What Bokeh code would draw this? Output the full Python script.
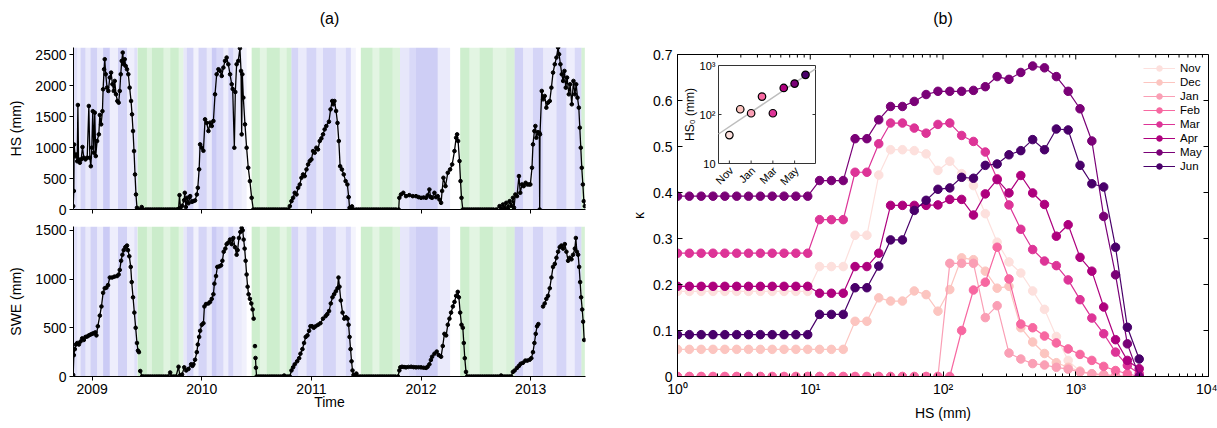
import math
from bokeh.plotting import figure
from bokeh.layouts import row, column
from bokeh.models import (Range1d, FixedTicker, CustomJSTickFormatter, Legend, LegendItem,
                          LinearScale, LogScale)
from bokeh.embed import file_html
from bokeh.resources import INLINE
from bokeh.core.properties import value

FONT = "Liberation Sans"
nan = float("nan")

# ---------------- panel (a): snow series (decimal year, mm) ----------------
HS_S1 = [(2008.827, 54), (2008.833, 300), (2008.836, 1050), (2008.845, 860), (2008.855, 890),
         (2008.864, 780), (2008.870, 1690), (2008.876, 810), (2008.888, 756), (2008.900, 810),
         (2008.912, 1010), (2008.924, 837), (2008.939, 810), (2008.955, 837), (2008.970, 1674),
         (2008.979, 837), (2008.988, 700), (2008.997, 1000), (2009.006, 1590), (2009.015, 918),
         (2009.024, 1566), (2009.033, 864), (2009.045, 1107), (2009.061, 1215), (2009.070, 1528),
         (2009.082, 1377), (2009.094, 1590), (2009.100, 1944), (2009.109, 2268), (2009.115, 2430),
         (2009.124, 2187), (2009.136, 1971), (2009.148, 1917), (2009.161, 2133), (2009.173, 2214),
         (2009.185, 2025), (2009.197, 1917), (2009.206, 2079), (2009.218, 1863), (2009.230, 1755),
         (2009.242, 1728), (2009.252, 1917), (2009.261, 2187), (2009.270, 2403), (2009.279, 2538),
         (2009.288, 2349), (2009.297, 2430), (2009.306, 2322), (2009.318, 2268), (2009.330, 2187),
         (2009.342, 1971), (2009.355, 1755), (2009.364, 1539), (2009.373, 1269), (2009.382, 945),
         (2009.391, 567), (2009.400, 243), (2009.409, 27), (2009.418, 0), (2009.440, 0),
         (2009.452, 40), (2009.465, 0), (2009.490, 0), (2009.510, 0), (2009.530, 0), (2009.550, 0),
         (2009.570, 0), (2009.590, 0), (2009.610, 0), (2009.630, 0), (2009.650, 0), (2009.670, 0),
         (2009.690, 0), (2009.710, 0), (2009.730, 0), (2009.750, 0), (2009.770, 0)]
HS_S2 = [(2009.788, 10), (2009.797, 232), (2009.806, 30), (2009.821, 60), (2009.839, 150),
         (2009.845, 270), (2009.855, 40), (2009.867, 190), (2009.879, 100), (2009.894, 216),
         (2009.909, 124), (2009.924, 135), (2009.939, 146), (2009.955, 243), (2009.964, 351),
         (2009.976, 650), (2009.985, 1053), (2010.000, 999), (2010.015, 950), (2010.030, 1458),
         (2010.045, 1400), (2010.061, 1269), (2010.076, 1404), (2010.091, 1350), (2010.106, 1431),
         (2010.121, 1863), (2010.136, 2187), (2010.152, 2268), (2010.167, 2241), (2010.182, 2160),
         (2010.197, 2295), (2010.212, 2403), (2010.227, 2457), (2010.242, 2349), (2010.258, 2187),
         (2010.273, 2025), (2010.282, 1950), (2010.297, 999), (2010.306, 1900), (2010.318, 2349),
         (2010.333, 2403), (2010.348, 2608), (2010.358, 2241), (2010.364, 1215), (2010.370, 2187),
         (2010.379, 1809), (2010.394, 1377), (2010.409, 999), (2010.424, 675), (2010.439, 459),
         (2010.455, 189), (2010.470, 0), (2010.490, 0), (2010.510, 0), (2010.530, 0), (2010.550, 0),
         (2010.570, 0), (2010.590, 0), (2010.610, 0), (2010.630, 0), (2010.650, 0), (2010.670, 0),
         (2010.690, 0), (2010.710, 0), (2010.730, 0), (2010.750, 0), (2010.770, 0), (2010.790, 0)]
HS_S3 = [(2010.803, 54), (2010.818, 135), (2010.833, 189), (2010.848, 270), (2010.864, 243),
         (2010.879, 351), (2010.894, 405), (2010.909, 513), (2010.924, 567), (2010.939, 540),
         (2010.955, 648), (2010.970, 729), (2010.985, 783), (2011.000, 810), (2011.015, 945),
         (2011.030, 918), (2011.045, 999), (2011.060, 972), (2011.076, 1107), (2011.091, 1150),
         (2011.106, 1215), (2011.121, 1296), (2011.136, 1350), (2011.160, 1420), (2011.175, 1620),
         (2011.190, 1755), (2011.200, 1701), (2011.210, 1755), (2011.225, 1593), (2011.238, 1400),
         (2011.250, 1107), (2011.262, 700), (2011.278, 648), (2011.295, 567), (2011.312, 459),
         (2011.328, 405), (2011.340, 200), (2011.348, 27), (2011.355, 0), (2011.370, 50),
         (2011.385, 0), (2011.410, 0), (2011.430, 0), (2011.450, 0), (2011.470, 0), (2011.490, 0),
         (2011.510, 0), (2011.530, 0), (2011.550, 0), (2011.570, 0), (2011.590, 0), (2011.610, 0),
         (2011.630, 0), (2011.650, 0), (2011.670, 0), (2011.690, 0), (2011.710, 0), (2011.730, 0),
         (2011.750, 0), (2011.770, 0), (2011.796, 0)]
HS_S4 = [(2011.802, 189), (2011.817, 243), (2011.838, 270), (2011.863, 216), (2011.893, 232),
         (2011.924, 216), (2011.954, 216), (2011.977, 200), (2012.000, 189), (2012.023, 195),
         (2012.046, 189), (2012.061, 230), (2012.076, 324), (2012.088, 200), (2012.101, 189),
         (2012.122, 270), (2012.137, 200), (2012.152, 216), (2012.168, 160), (2012.183, 108),
         (2012.192, 300), (2012.204, 513), (2012.223, 378), (2012.244, 594), (2012.265, 648),
         (2012.284, 729), (2012.305, 945), (2012.320, 1161), (2012.329, 1215), (2012.338, 1107),
         (2012.351, 783), (2012.360, 459), (2012.369, 189), (2012.381, 0), (2012.400, 0),
         (2012.420, 0), (2012.440, 0), (2012.460, 0), (2012.480, 0), (2012.500, 0), (2012.520, 0),
         (2012.540, 0), (2012.560, 0), (2012.580, 0), (2012.600, 0), (2012.620, 0), (2012.640, 0),
         (2012.660, 0), (2012.686, 0)]
HS_S5 = [(2012.716, 54), (2012.732, 10), (2012.747, 81), (2012.762, 20), (2012.777, 108),
         (2012.793, 30), (2012.808, 135), (2012.823, 60), (2012.838, 189), (2012.848, 30),
         (2012.860, 243), (2012.875, 216), (2012.893, 540), (2012.905, 270), (2012.921, 405),
         (2012.936, 378), (2012.954, 432), (2012.970, 405), (2012.985, 405), (2012.997, 405),
         (2013.012, 675), (2013.021, 1053), (2013.034, 1269), (2013.043, 1350), (2013.052, 1161),
         (2013.067, 1250), (2013.079, 1240), (2013.082, 0), (2013.085, 1215), (2013.101, 1917),
         (2013.113, 1782), (2013.128, 1836), (2013.143, 1647), (2013.158, 1728), (2013.174, 1755),
         (2013.189, 1971), (2013.204, 2214), (2013.220, 2349), (2013.235, 2457), (2013.250, 2619),
         (2013.259, 2511), (2013.271, 2349), (2013.284, 2187), (2013.296, 2079), (2013.308, 2241),
         (2013.320, 1971), (2013.332, 2133), (2013.348, 1863), (2013.360, 2025), (2013.375, 1701),
         (2013.390, 2079), (2013.403, 1863), (2013.415, 2025), (2013.427, 1809), (2013.439, 1647),
         (2013.448, 1323), (2013.457, 999), (2013.466, 675), (2013.476, 405), (2013.485, 135),
         (2013.494, 54)]

SWE_S1 = [(2008.827, 16), (2008.833, 219), (2008.842, 281), (2008.852, 328), (2008.864, 344),
          (2008.879, 328), (2008.894, 359), (2008.909, 391), (2008.924, 375), (2008.939, 406),
          (2008.955, 410), (2008.970, 422), (2008.985, 430), (2009.000, 438), (2009.015, 445),
          (2009.030, 453), (2009.039, 422), (2009.052, 516), (2009.070, 625), (2009.085, 719),
          (2009.100, 859), (2009.115, 906), (2009.130, 912), (2009.145, 938), (2009.161, 1016),
          (2009.182, 1016), (2009.203, 1025), (2009.227, 1031), (2009.242, 1047), (2009.252, 1094),
          (2009.264, 1188), (2009.276, 1250), (2009.288, 1297), (2009.303, 1328), (2009.318, 1344),
          (2009.327, 1297), (2009.339, 1234), (2009.352, 1125), (2009.361, 969), (2009.373, 813),
          (2009.385, 656), (2009.397, 500), (2009.409, 344), (2009.418, 266), (2009.427, 250),
          (2009.433, nan), (2009.439, 56), (2009.455, 0), (2009.470, 0), (2009.490, 0),
          (2009.510, 0), (2009.530, 0), (2009.550, 0), (2009.570, 0), (2009.590, 0), (2009.610, 0),
          (2009.630, 0), (2009.650, 0), (2009.670, 0), (2009.690, 0), (2009.712, 41),
          (2009.725, 0), (2009.745, 0), (2009.765, 0)]
SWE_S2 = [(2009.788, 100), (2009.800, 10), (2009.820, 20), (2009.840, 94), (2009.858, 62),
          (2009.879, 78), (2009.903, 125), (2009.915, 109), (2009.924, 125), (2009.939, 172),
          (2009.955, 250), (2009.964, 328), (2009.976, 406), (2009.985, 469), (2010.000, 531),
          (2010.015, 547), (2010.024, 719), (2010.039, 744), (2010.061, 750), (2010.076, 766),
          (2010.091, 797), (2010.106, 844), (2010.115, 953), (2010.130, 1031), (2010.142, 1125),
          (2010.161, 1131), (2010.176, 1141), (2010.188, 1188), (2010.200, 1281), (2010.215, 1313),
          (2010.227, 1359), (2010.242, 1375), (2010.258, 1406), (2010.273, 1359), (2010.288, 1422),
          (2010.303, 1328), (2010.318, 1250), (2010.327, 1297), (2010.339, 1422), (2010.352, 1484),
          (2010.364, 1525), (2010.373, 1500), (2010.382, 1406), (2010.391, 1313), (2010.400, 1188),
          (2010.409, 1047), (2010.418, 922), (2010.427, 844), (2010.439, 797), (2010.452, 750),
          (2010.464, 688), (2010.473, 594), (2010.479, nan), (2010.485, 312), (2010.487, nan),
          (2010.490, 190), (2010.494, 90), (2010.500, 0), (2010.520, 0), (2010.540, 0),
          (2010.560, 0), (2010.580, 0), (2010.600, 0), (2010.620, 0), (2010.640, 0), (2010.660, 0),
          (2010.680, 0), (2010.700, 0), (2010.720, 0), (2010.740, 0), (2010.752, 10),
          (2010.765, 0), (2010.785, 0), (2010.803, 0)]
SWE_S3 = [(2010.818, 62), (2010.833, 94), (2010.848, 125), (2010.870, 156), (2010.888, 188),
          (2010.900, 234), (2010.918, 281), (2010.933, 344), (2010.948, 406), (2010.964, 422),
          (2010.979, 469), (2010.991, 516), (2011.006, 516), (2011.021, 500), (2011.039, 516),
          (2011.061, 531), (2011.082, 547), (2011.106, 594), (2011.130, 620), (2011.145, 640),
          (2011.161, 672), (2011.177, 750), (2011.192, 813), (2011.207, 844), (2011.223, 875),
          (2011.238, 906), (2011.247, 1016), (2011.256, 922), (2011.268, 781), (2011.284, 656),
          (2011.300, 594), (2011.314, 609), (2011.330, 594), (2011.339, 531), (2011.348, 406),
          (2011.357, 281), (2011.366, 156), (2011.375, 62), (2011.384, 16), (2011.395, 0),
          (2011.410, 30), (2011.425, 0), (2011.445, 0), (2011.465, 0), (2011.485, 0), (2011.505, 0),
          (2011.525, 0), (2011.545, 0), (2011.565, 0), (2011.585, 0), (2011.605, 0), (2011.625, 0),
          (2011.645, 0), (2011.665, 0), (2011.685, 0), (2011.705, 0), (2011.725, 0), (2011.745, 0),
          (2011.765, 0), (2011.790, 0)]
SWE_S4 = [(2011.802, 62), (2011.811, 94), (2011.826, 100), (2011.845, 97), (2011.863, 94),
          (2011.885, 98), (2011.910, 100), (2011.932, 96), (2011.954, 94), (2011.977, 95),
          (2012.000, 94), (2012.023, 90), (2012.046, 88), (2012.060, 100), (2012.076, 125),
          (2012.090, 170), (2012.101, 203), (2012.122, 234), (2012.143, 256), (2012.162, 219),
          (2012.183, 203), (2012.198, 313), (2012.213, 438), (2012.229, 422), (2012.244, 531),
          (2012.259, 594), (2012.274, 656), (2012.290, 719), (2012.305, 766), (2012.320, 828),
          (2012.335, 869), (2012.345, 813), (2012.357, 656), (2012.369, 531), (2012.381, 500),
          (2012.390, 344), (2012.399, 188), (2012.410, 47), (2012.420, 0), (2012.440, 0),
          (2012.460, 0), (2012.480, 0), (2012.500, 0), (2012.520, 0), (2012.540, 0), (2012.560, 0),
          (2012.580, 0), (2012.600, 0), (2012.620, 0), (2012.640, 0), (2012.660, 0), (2012.680, 0),
          (2012.700, 0), (2012.730, 10), (2012.745, 0), (2012.765, 0), (2012.785, 0),
          (2012.805, 0), (2012.822, 0)]
SWE_S5 = [(2012.838, 47), (2012.854, 62), (2012.875, 88), (2012.893, 109), (2012.909, 131),
          (2012.930, 141), (2012.951, 163), (2012.970, 163), (2012.991, 172), (2013.006, 188),
          (2013.021, 250), (2013.034, 344), (2013.046, 438), (2013.058, 516), (2013.070, 538),
          (2013.090, nan), (2013.113, 719), (2013.128, 750), (2013.143, 797), (2013.158, 828),
          (2013.174, 906), (2013.189, 1016), (2013.204, 1125), (2013.220, 1156), (2013.235, 1219),
          (2013.250, 1281), (2013.265, 1328), (2013.280, 1344), (2013.296, 1313), (2013.311, 1359),
          (2013.326, 1281), (2013.341, 1188), (2013.357, 1219), (2013.372, 1203), (2013.387, 1250),
          (2013.403, 1313), (2013.412, 1422), (2013.421, 1281), (2013.433, 1250), (2013.442, 1125),
          (2013.451, 969), (2013.460, 813), (2013.470, 688), (2013.479, 563), (2013.488, 375)]

# background day classes: (start, end, class, intensity); b = accumulation, g = snow-free
BANDS = [(2008.827, 2008.864, "b", 0.45), (2008.864, 2008.894, "b", 0.25), (2008.894, 2008.939, "b", 0.60),
         (2008.939, 2008.985, "b", 0.30), (2008.985, 2009.045, "b", 0.65), (2009.045, 2009.100, "b", 0.30),
         (2009.100, 2009.161, "b", 0.75), (2009.161, 2009.236, "b", 0.25), (2009.236, 2009.318, "b", 0.65),
         (2009.318, 2009.385, "b", 0.25), (2009.385, 2009.412, "b", 0.45),
         (2009.415, 2009.500, "g", 0.75), (2009.500, 2009.545, "g", 0.45), (2009.545, 2009.652, "g", 0.75),
         (2009.652, 2009.712, "g", 0.45), (2009.712, 2009.790, "g", 0.70), (2009.790, 2009.833, "g", 0.40),
         (2009.833, 2009.864, "b", 0.35), (2009.864, 2009.924, "b", 0.60), (2009.924, 2009.970, "b", 0.20),
         (2009.970, 2010.045, "b", 0.60), (2010.045, 2010.091, "b", 0.30), (2010.091, 2010.136, "b", 0.75),
         (2010.136, 2010.197, "b", 0.55), (2010.197, 2010.242, "b", 0.25), (2010.242, 2010.288, "b", 0.60),
         (2010.288, 2010.364, "b", 0.30), (2010.364, 2010.409, "b", 0.20),
         (2010.455, 2010.530, "g", 0.70), (2010.530, 2010.591, "g", 0.40), (2010.591, 2010.712, "g", 0.70),
         (2010.712, 2010.773, "g", 0.40), (2010.773, 2010.818, "g", 0.65),
         (2010.818, 2010.879, "b", 0.60), (2010.879, 2010.955, "b", 0.30), (2010.955, 2011.045, "b", 0.60),
         (2011.045, 2011.106, "b", 0.30), (2011.106, 2011.223, "b", 0.60), (2011.223, 2011.314, "b", 0.30),
         (2011.314, 2011.360, "b", 0.55), (2011.360, 2011.405, "b", 0.15),
         (2011.451, 2011.558, "g", 0.70), (2011.558, 2011.619, "g", 0.40), (2011.619, 2011.741, "g", 0.70),
         (2011.741, 2011.808, "g", 0.50),
         (2011.808, 2011.893, "b", 0.35), (2011.893, 2011.954, "b", 0.55), (2011.954, 2012.152, "b", 0.70),
         (2012.152, 2012.265, "b", 0.30),
         (2012.357, 2012.442, "g", 0.70), (2012.442, 2012.534, "g", 0.40), (2012.534, 2012.655, "g", 0.70),
         (2012.655, 2012.777, "g", 0.40), (2012.777, 2012.854, "g", 0.55),
         (2012.854, 2012.930, "b", 0.65), (2012.930, 2013.021, "b", 0.30), (2013.021, 2013.113, "b", 0.60),
         (2013.113, 2013.235, "b", 0.30), (2013.235, 2013.326, "b", 0.60), (2013.326, 2013.402, "b", 0.25),
         (2013.402, 2013.463, "b", 0.55), (2013.463, 2013.494, "g", 0.60)]

YEAR_TICKS = [2009, 2010, 2011, 2012, 2013]
HS_TICKS = [0, 500, 1000, 1500, 2000, 2500]
SWE_TICKS = [0, 500, 1000, 1500]

# ---------------- panel (b): kappa vs HS by month ----------------
MONTHS = ["Nov", "Dec", "Jan", "Feb", "Mar", "Apr", "May", "Jun"]
MONTH_COLORS = ["#fde0dd", "#fcc5c0", "#fa9fb5", "#f768a1", "#dd3497", "#ae017e", "#7a0177", "#49006a"]
HS_BINS = [1.0, 1.228, 1.508, 1.851, 2.274, 2.792, 3.429, 4.21, 5.169, 6.348, 7.795, 9.572,
           11.75, 14.43, 17.72, 21.76, 26.72, 32.81, 40.29, 49.48, 60.76, 74.61, 91.61,
           112.5, 138.2, 169.6, 208.3, 255.8, 314.1, 385.7, 473.6, 581.6, 714.2, 876.9,
           1077, 1322, 1624, 1994, 2448, 3006]
KAPPA_NOV = [0.185, 0.185, 0.185, 0.185, 0.185, 0.185, 0.185, 0.185, 0.185, 0.185, 0.185, 0.185,
             0.239, 0.239, 0.239, 0.307, 0.307, 0.438, 0.493, 0.493, 0.491, 0.484, 0.448, 0.468,
             0.441, 0.415, 0.354, 0.292, 0.249, 0.225, 0.186, 0.146, 0.087, 0.035, 0.011, 0.004,
             0.001, 0, 0, 0]
KAPPA_DEC = [0.059, 0.059, 0.059, 0.059, 0.059, 0.059, 0.059, 0.059, 0.059, 0.059, 0.059, 0.059,
             0.059, 0.059, 0.059, 0.120, 0.120, 0.171, 0.164, 0.164, 0.186, 0.178, 0.142, 0.189,
             0.258, 0.254, 0.229, 0.192, 0.196, 0.106, 0.075, 0.050, 0.030, 0.020, 0.012, 0.006,
             0.003, 0.001, 0, 0]
KAPPA_JAN = [0, 0, 0, 0, 0, 0, 0, 0, 0, 0, 0, 0, 0, 0, 0, 0, 0, 0, 0, 0, 0, 0, 0,
             0.246, 0.246, 0.246, 0.128, 0.154, 0.051, 0.038, 0.028, 0.025, 0.020, 0.016, 0.010,
             0.006, 0.004, 0.002, 0, 0]
KAPPA_FEB = [0, 0, 0, 0, 0, 0, 0, 0, 0, 0, 0, 0, 0, 0, 0, 0, 0, 0, 0, 0, 0, 0, 0, 0,
             0.100, 0.188, 0.205, 0.281, 0.212, 0.114, 0.106, 0.088, 0.073, 0.060, 0.048, 0.035,
             0.022, 0.013, 0.006, 0]
KAPPA_MAR = [0.268, 0.268, 0.268, 0.268, 0.268, 0.268, 0.268, 0.268, 0.268, 0.268, 0.268, 0.268,
             0.341, 0.341, 0.341, 0.444, 0.444, 0.506, 0.551, 0.551, 0.540, 0.529, 0.548, 0.551,
             0.524, 0.511, 0.488, 0.430, 0.373, 0.320, 0.276, 0.251, 0.241, 0.210, 0.167, 0.127,
             0.093, 0.053, 0.024, 0.006]
KAPPA_APR = [0.196, 0.196, 0.196, 0.196, 0.196, 0.196, 0.196, 0.196, 0.196, 0.196, 0.196, 0.196,
             0.181, 0.181, 0.181, 0.239, 0.239, 0.268, 0.372, 0.372, 0.372, 0.372, 0.373, 0.385,
             0.385, 0.351, 0.397, 0.428, 0.399, 0.437, 0.399, 0.374, 0.305, 0.330, 0.259, 0.229,
             0.151, 0.080, 0.035, 0.017]
KAPPA_MAY = [0.392, 0.392, 0.392, 0.392, 0.392, 0.392, 0.392, 0.392, 0.392, 0.392, 0.392, 0.392,
             0.426, 0.426, 0.426, 0.517, 0.517, 0.558, 0.587, 0.587, 0.598, 0.613, 0.620, 0.620,
             0.620, 0.622, 0.630, 0.652, 0.646, 0.661, 0.675, 0.671, 0.652, 0.620, 0.582, 0.512,
             0.348, 0.221, 0.071, 0.0]
KAPPA_JUN = [0.091, 0.091, 0.091, 0.091, 0.091, 0.091, 0.091, 0.091, 0.091, 0.091, 0.091, 0.091,
             0.135, 0.135, 0.135, 0.193, 0.193, 0.240, 0.297, 0.297, 0.361, 0.383, 0.407, 0.410,
             0.433, 0.431, 0.459, 0.462, 0.482, 0.491, 0.515, 0.493, 0.538, 0.536, 0.459, 0.419,
             0.412, 0.281, 0.107, 0.038]
KAPPA_ALL = [KAPPA_NOV, KAPPA_DEC, KAPPA_JAN, KAPPA_FEB, KAPPA_MAR, KAPPA_APR, KAPPA_MAY, KAPPA_JUN]
KAPPA_TICKS = [0, 0.1, 0.2, 0.3, 0.4, 0.5, 0.6, 0.7]
HS_DECADES = [1, 10, 100, 1000, 10000]

# inset: HS0 per month (mm) and its log-linear fit
MONTH_IDX = [0, 1, 2, 3, 4, 5, 6, 7]
HS0 = [38, 128, 106, 232, 106, 348, 427, 645]
HS0_FIT_X = [-1.0, 7.92]
HS0_FIT_Y = [40, 851]
INSET_XTICKS = [0, 2, 4, 6]
INSET_XLABELS = ["Nov", "Jan", "Mar", "May"]
INSET_YTICKS = [1000, 100, 10]
INSET_YLABELS = ["10\u00b3", "10\u00b2", "10"]

# ---------------- layout constants (page pixels, page has no margin) ----------------
TITLE_H = 36                      # strip holding the panel titles
A_X0, A_X1 = 2008.83, 2013.50
A_FW, A_ML, A_MR = 512, 73, 35
A_W = A_ML + A_FW + A_MR          # 620
B_FL, B_FT, B_FW, B_FH = 677, 54, 531, 322
B_ML = B_FL - A_W
B_MR = 1217 - B_FL - B_FW
INSET_L, INSET_R, INSET_T, INSET_B = 718, 815, 65, 163
INSET_X = (-1.0, 7.92)
INSET_Y = (10.0, 1000.0)

BLUE, GREEN = "#a8a8ee", "#a8e0a8"
BAND_ALPHA = 0.8


def title_strip(text, fw, ml, mr):
    # a frame exactly as wide as the panel frame below it (column layouts align frames)
    t = figure(x_range=Range1d(0, fw), y_range=Range1d(0, TITLE_H),
               frame_width=fw, frame_height=TITLE_H, min_border_left=ml, min_border_right=mr,
               min_border_top=0, min_border_bottom=0,
               x_axis_location=None, y_axis_location=None, title=None,
               output_backend="svg", toolbar_location=None)
    t.grid.visible = False
    t.outline_line_color = None
    t.text(x=[fw / 2], y=[TITLE_H / 2], text=[text], text_align="center",
           text_baseline="middle", text_font=value(FONT), text_font_size=value("16px"),
           text_color="black")
    return t


def style_axis(ax, size="14px"):
    ax.axis_line_color = "black"
    ax.axis_line_width = 1
    ax.major_tick_line_color = "black"
    ax.minor_tick_line_color = None
    ax.major_label_text_font = FONT
    ax.major_label_text_font_size = size
    ax.major_label_text_color = "black"
    ax.axis_label_text_font = FONT
    ax.axis_label_text_font_style = "normal"
    ax.axis_label_text_font_size = size
    ax.axis_label_text_color = "black"


def panel_a(series, ymax, yticks, ylabel, mb_top, fh, mb_bottom, show_x):
    p = figure(x_range=Range1d(A_X0, A_X1), y_range=Range1d(0, ymax),
               frame_width=A_FW, frame_height=fh,
               min_border_left=A_ML, min_border_right=A_MR,
               min_border_top=mb_top, min_border_bottom=mb_bottom,
               title=None, output_backend="svg", toolbar_location=None)
    p.grid.visible = False
    p.outline_line_color = None
    p.quad(left=[b[0] for b in BANDS], right=[b[1] for b in BANDS], bottom=0, top=ymax,
           fill_color=[BLUE if b[2] == "b" else GREEN for b in BANDS],
           fill_alpha=[b[3] * BAND_ALPHA for b in BANDS], line_color=None)
    xs, ys = [], []
    for s in series:
        xs += [t for t, _ in s]
        ys += [v for _, v in s]
    p.line(xs, ys, line_color="black", line_width=1.3)
    p.scatter(xs, ys, size=3.6, marker="circle", color="black")

    yax = p.yaxis[0]
    style_axis(yax)
    yax.ticker = FixedTicker(ticks=yticks)
    yax.axis_label = ylabel
    yax.major_tick_out = 4
    yax.major_tick_in = 0
    yax.major_label_standoff = 3
    yax.axis_label_standoff = 8

    xax = p.xaxis[0]
    style_axis(xax)
    xax.ticker = FixedTicker(ticks=YEAR_TICKS)
    xax.major_tick_out = 4
    xax.major_tick_in = 0
    if show_x:
        xax.major_label_standoff = 3
        xax.axis_label = "Time"
        xax.axis_label_standoff = -3
    else:
        xax.major_label_text_font_size = "1px"
        xax.major_label_text_color = None
        xax.major_label_text_alpha = 0
        xax.major_label_standoff = 0
    return p


t_a = title_strip("(a)", A_FW, A_ML, A_MR)
p_hs = panel_a([HS_S1, HS_S2, HS_S3, HS_S4, HS_S5], 2620, HS_TICKS, "HS (mm)",
               47 - TITLE_H, 162, 10, False)
p_swe = panel_a([SWE_S1, SWE_S2, SWE_S3, SWE_S4, SWE_S5], 1540, SWE_TICKS, "SWE (mm)",
                7, 150, 52, True)

# ---------------- panel (b) ----------------
t_b = title_strip("(b)", B_FW, B_ML, B_MR)
pb = figure(x_axis_type="log", x_range=Range1d(1, 1e4), y_range=Range1d(0, 0.7),
            frame_width=B_FW, frame_height=B_FH, min_border_left=B_ML,
            min_border_right=B_MR,
            min_border_top=B_FT - TITLE_H, min_border_bottom=428 - B_FT - B_FH, title=None,
            output_backend="svg", toolbar_location=None)
pb.grid.visible = False
pb.outline_line_color = "black"

items = []
for m, c, k in zip(MONTHS, MONTH_COLORS, KAPPA_ALL):
    r1 = pb.line(HS_BINS, k, line_color=c, line_width=1.2)
    r2 = pb.scatter(HS_BINS, k, size=8.5, marker="circle", fill_color=c, line_color=c)
    items.append(LegendItem(label=m, renderers=[r1, r2]))

minor = [m * 10 ** e for e in range(4) for m in range(2, 10)]
xticker = FixedTicker(ticks=HS_DECADES, minor_ticks=minor)
xfmt = CustomJSTickFormatter(code="""
const sup = ["\\u2070", "\\u00b9", "\\u00b2", "\\u00b3", "\\u2074"];
return "10" + sup[Math.round(Math.log10(tick))];
""")
yticker = FixedTicker(ticks=KAPPA_TICKS)
yfmt = CustomJSTickFormatter(code="return tick < 1e-9 ? '0' : tick.toFixed(1);")

bx = pb.xaxis[0]
style_axis(bx)
bx.ticker = xticker
bx.formatter = xfmt
bx.major_tick_in = 5
bx.major_tick_out = 0
bx.minor_tick_line_color = "black"
bx.minor_tick_in = 3
bx.minor_tick_out = 0
bx.major_label_standoff = 4
bx.axis_label = "HS (mm)"
bx.axis_label_standoff = 5

by = pb.yaxis[0]
style_axis(by)
by.ticker = yticker
by.formatter = yfmt
by.major_tick_in = 5
by.major_tick_out = 0
by.major_label_standoff = 5
by.axis_label = "\u03ba"
by.axis_label_standoff = 3

# mirrored inward ticks on the top and right edges of the frame
dy_major = 5 / B_FH * 0.7
dy_minor = 3 / B_FH * 0.7
pb.segment(x0=HS_DECADES, y0=[0.7] * 5, x1=HS_DECADES, y1=[0.7 - dy_major] * 5,
           line_color="black", line_width=1)
pb.segment(x0=minor, y0=[0.7] * len(minor), x1=minor, y1=[0.7 - dy_minor] * len(minor),
           line_color="black", line_width=1)
x_in = 10 ** (4 - 5 / (B_FW / 4))
pb.segment(x0=[x_in] * 8, y0=KAPPA_TICKS, x1=[1e4] * 8, y1=KAPPA_TICKS,
           line_color="black", line_width=1)

# ---- inset drawn through extra ranges that map onto the inset box ----
sx = (INSET_X[1] - INSET_X[0]) / (INSET_R - INSET_L)
ex0 = INSET_X[0] - (INSET_L - B_FL) * sx
ex1 = INSET_X[0] + (B_FL + B_FW - INSET_L) * sx
ly0, ly1 = math.log10(INSET_Y[0]), math.log10(INSET_Y[1])
sy = (ly1 - ly0) / (INSET_B - INSET_T)
ey0 = 10 ** (ly0 - (B_FT + B_FH - INSET_B) * sy)
ey1 = 10 ** (ly1 + (INSET_T - B_FT) * sy)
pb.extra_x_ranges = {"ix": Range1d(ex0, ex1)}
pb.extra_y_ranges = {"iy": Range1d(ey0, ey1)}
pb.extra_x_scales = {"ix": LinearScale()}
pb.extra_y_scales = {"iy": LogScale()}
IN = dict(x_range_name="ix", y_range_name="iy")

pb.quad(left=INSET_X[0], right=INSET_X[1], bottom=INSET_Y[0], top=INSET_Y[1],
        fill_color="white", line_color="#333333", line_width=1, **IN)
tk = 3 * sx
pb.segment(x0=[INSET_X[0], INSET_X[1] - tk], y0=[100, 100], x1=[INSET_X[0] + tk, INSET_X[1]],
           y1=[100, 100], line_color="#333333", line_width=1, **IN)
tky = 10 ** (ly0 + 3 * sy)
pb.segment(x0=INSET_XTICKS, y0=[INSET_Y[0]] * 4, x1=INSET_XTICKS, y1=[tky] * 4,
           line_color="#333333", line_width=1, **IN)
pb.line(HS0_FIT_X, HS0_FIT_Y, line_color="#bdbdbd", line_width=1.5, **IN)
pb.scatter(MONTH_IDX, HS0, size=7.5, marker="circle", fill_color=MONTH_COLORS,
           line_color="black", line_width=1.2, **IN)
pb.text(x=[INSET_X[0]] * 3, y=INSET_YTICKS, text=INSET_YLABELS, x_offset=-3,
        text_align="right", text_baseline="middle", text_font=value(FONT),
        text_font_size=value("11px"), text_color="black", **IN)
pb.text(x=INSET_XTICKS, y=[INSET_Y[0]] * 4, text=INSET_XLABELS, angle=math.pi / 4,
        x_offset=2, y_offset=5, text_align="right", text_baseline="middle",
        text_font=value(FONT), text_font_size=value("11px"), text_color="black", **IN)
pb.text(x=[INSET_X[0]], y=[100], text=["HS\u2080 (mm)"], angle=math.pi / 2, x_offset=-29,
        text_align="center", text_baseline="middle", text_font=value(FONT),
        text_font_size=value("12px"), text_color="black", **IN)

legend = Legend(items=items, location=(466, 203))
legend.label_text_font = FONT
legend.label_text_font_size = "11.5px"
legend.label_text_color = "black"
legend.glyph_width = 32
legend.glyph_height = 14
legend.label_height = 14
legend.label_standoff = 5
legend.spacing = 0
legend.padding = 2
legend.margin = 0
legend.border_line_color = None
legend.background_fill_alpha = 0
pb.add_layout(legend)

layout = row(column(t_a, p_hs, p_swe), column(t_b, pb))
open("out.html", "w").write(file_html(layout, INLINE))
